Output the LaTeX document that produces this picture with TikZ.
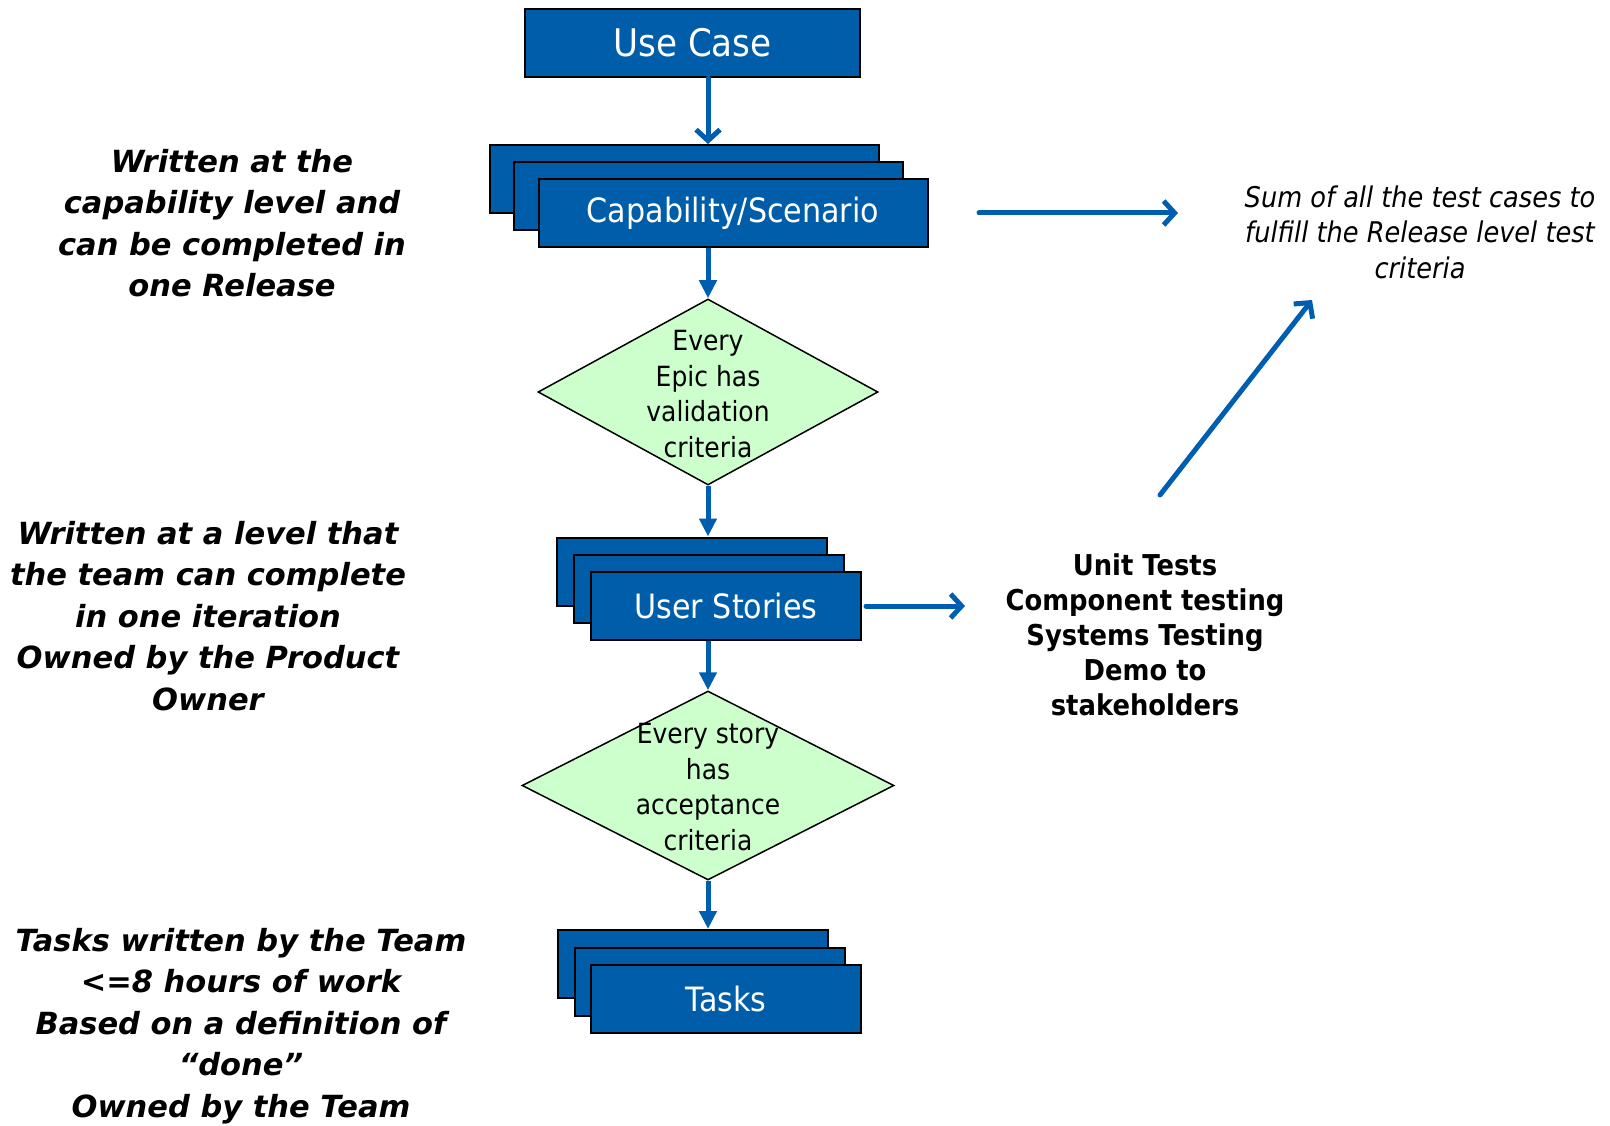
\documentclass[tikz,border=0pt]{standalone}
\usepackage{fontspec}
\setmainfont{DejaVu Sans}
\newfontfamily\condfont{DejaVu Sans}[FakeStretch=0.9]
\usetikzlibrary{positioning, arrows.meta, calc, shapes.geometric}
\definecolor{boxblue}{HTML}{005DAA}
\definecolor{flowblue}{HTML}{005EB0}
\definecolor{critgreen}{HTML}{CCFFCC}

\begin{document}
\begin{tikzpicture}[x=1pt, y=-1pt,
  stepbox/.style={draw=black, line width=2, fill=boxblue, text=white,
                  minimum width=389, minimum height=68, inner sep=0,
                  font=\condfont\fontsize{33.5}{40}\selectfont},
  crit/.style={diamond, draw=black, line width=1.5, fill=critgreen,
               inner sep=0},
  crittext/.style={align=center, inner sep=0,
                   font=\condfont\fontsize{27.8}{35.5}\selectfont},
  note/.style={align=center, inner sep=0,
               font=\fontsize{30.5}{41.5}\selectfont\bfseries\itshape},
  flow/.style={-{Triangle[length=18, width=17]}, line width=5, flowblue},
  flowo/.style={-{Straight Barb[length=11, width=24]}, line width=5,
                flowblue, line cap=round, line join=round},
]
\useasboundingbox (0,0) rectangle (1610,1126);

% Main column
\node[stepbox, minimum width=335, font=\condfont\fontsize{38}{44}\selectfont]
  (ucase) at (692.5, 43) {Use Case};

\node[stepbox] (capB) at (684.5, 179) {};
\node[stepbox] (capM) at (708.5, 196) {};
\node[stepbox] (capF) at (733, 213.5) {Capability/Scenario};

\node[crit, minimum width=340, minimum height=186] (d1) at (708, 392) {};
\node[crittext] (d1txt) at (708, 394) {Every\\Epic has\\validation\\criteria};

\node[stepbox, minimum width=270] (usB) at (692, 571.5) {};
\node[stepbox, minimum width=270] (usM) at (708.5, 588.5) {};
\node[stepbox, minimum width=270] (usF) at (726, 606) {User Stories};

\node[crit, minimum width=372, minimum height=189] (d2) at (708, 785.5) {};
\node[crittext] (d2txt) at (708, 787) {Every story\\has\\acceptance\\criteria};

\node[stepbox, minimum width=270] (tkB) at (692.5, 964) {};
\node[stepbox, minimum width=270] (tkM) at (709.5, 982) {};
\node[stepbox, minimum width=270] (tkF) at (726, 999) {Tasks};

% Vertical flow
\draw[flowo] (ucase.south -| d1.north) -- (capB.north -| d1.north);
\draw[flow] (capF.south -| d1.north) -- (d1.north);
\draw[flow] (d1.south) -- (usB.north -| d1.south);
\draw[flow] (usF.south -| d2.north) -- (d2.north);
\draw[flow] (d2.south) -- (tkB.north -| d2.south);

% Notes on the left
\node[note] (capnote) at (232, 223)
  {Written at the\\capability level and\\can be completed in\\one Release};
\node[note] (usnote) at (208, 616)
  {Written at a level that\\the team can complete\\in one iteration\\Owned by the Product\\Owner};
\node[note] (tknote) at (241, 1026)
  {Tasks written by the Team\\<=8 hours of work\\Based on a definition of\\“done”\\Owned by the Team};

% Tests on the right
\node[align=center, inner sep=0, font=\condfont\fontsize{28.7}{35}\selectfont\bfseries]
  (tests) at (1145, 634.5)
  {Unit Tests\\Component testing\\Systems Testing\\Demo to\\stakeholders};
\node[align=center, inner sep=0, font=\condfont\fontsize{28.5}{35.5}\selectfont\itshape]
  (sum) at (1420, 232)
  {Sum of all the test cases to\\fulfill the Release level test\\criteria};

\coordinate (capout) at (979, 213);
\coordinate (sumin) at (1178, 213);
\coordinate (usout) at (866, 606);
\coordinate (testsin) at (965, 606);
\coordinate (testsup) at (1160, 495);
\coordinate (sumbelow) at (1312, 300);

\draw[flowo] (capout) -- (sumin);
\draw[flowo] (usout) -- (testsin);
\draw[flowo] (testsup) -- (sumbelow);
\end{tikzpicture}
\end{document}
